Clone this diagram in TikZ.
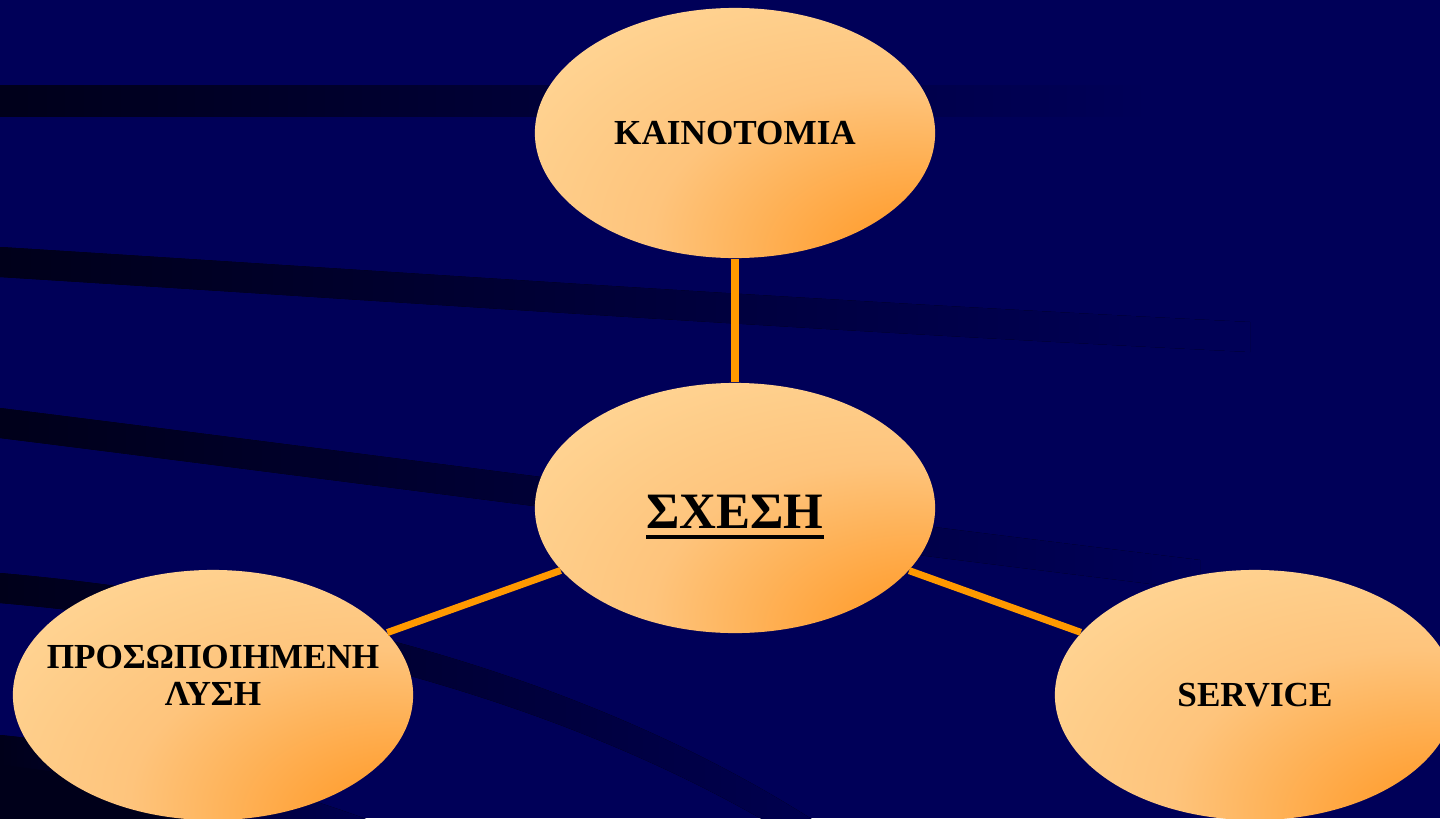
\documentclass[tikz,border=0pt]{standalone}
\usepackage{fontspec}
\setmainfont{Liberation Serif}
\usetikzlibrary{shapes.geometric}
\definecolor{sky}{RGB}{0,0,88}
\definecolor{ink}{RGB}{0,0,26}
\definecolor{glowdeep}{RGB}{255,156,44}
\definecolor{glowmid}{RGB}{254,196,124}
\definecolor{glowpale}{RGB}{255,218,156}
\definecolor{wirecol}{RGB}{255,153,0}
\pgfdeclareradialshading{glow}{\pgfpoint{28bp}{-30bp}}{color(0bp)=(glowdeep); color(8bp)=(glowdeep); color(30bp)=(glowmid); color(55bp)=(glowpale); color(100bp)=(glowpale)}
\tikzstyle{oval} = [ellipse, minimum width=4cm, minimum height=2.5cm, inner sep=0pt, shading=glow, font=\fontsize{10pt}{10.5pt}\selectfont\bfseries]
\tikzstyle{wire} = [draw=wirecol, line width=2pt]
\tikzstyle{band} = [left color=ink, right color=sky]
\newcommand{\undertext}[1]{\setbox0=\hbox{#1}\rlap{\rule[-3pt]{\wd0}{1.3pt}}\box0}

\begin{document}
\begin{tikzpicture}[x=0.01cm, y=-0.01cm]%
	\fill[sky] (0,0) rectangle (1440,818);%
	\clip (0,0) rectangle (1440,818);%
	% dark streaks behind
	\fill[band] (0,85) rectangle (1150,116);%
	\fill[band] (0,247) .. controls (400,272) and (800,300) .. (1250,322) -- (1250,352) .. controls (800,330) and (400,302) .. (0,277) -- cycle;%
	\fill[band] (0,408) .. controls (400,458) and (750,505) .. (1200,560) -- (1200,590) .. controls (750,535) and (400,488) .. (0,438) -- cycle;%
	\fill[band] (0,573) .. controls (250,595) and (560,660) .. (810,818) -- (960,905) -- (930,935) -- (810,848) .. controls (560,690) and (250,625) .. (0,603) -- cycle;%
	\fill[band] (0,735) .. controls (150,750) and (300,790) .. (420,840) -- (0,840) -- cycle;%
	\fill[ink] (0,765) .. controls (100,775) and (200,800) .. (300,840) -- (0,840) -- cycle;%
	% ovals
	\node[oval] (kain) at (735,133) {ΚΑΙΝΟΤΟΜΙΑ};%
	\node[oval, font=\fontsize{14.5pt}{17pt}\selectfont\bfseries, text height=14.8pt, text depth=3pt] (sxesi) at (735,508) {\undertext{ΣΧΕΣΗ}};%
	\node[oval, label={[align=center, font=\fontsize{10pt}{10.5pt}\selectfont\bfseries, yshift=0.2cm]center:ΠΡΟΣΩΠΟΙΗΜΕΝΗ\\ΛΥΣΗ}] (lysi) at (213,695) {};%
	\node[oval] (service) at (1255,695) {SERVICE};%
	\draw[wire] (kain) -- (sxesi);%
	\draw[wire] (sxesi) -- (lysi);%
	\draw[wire] (sxesi) -- (service);%
\end{tikzpicture}
\end{document}
